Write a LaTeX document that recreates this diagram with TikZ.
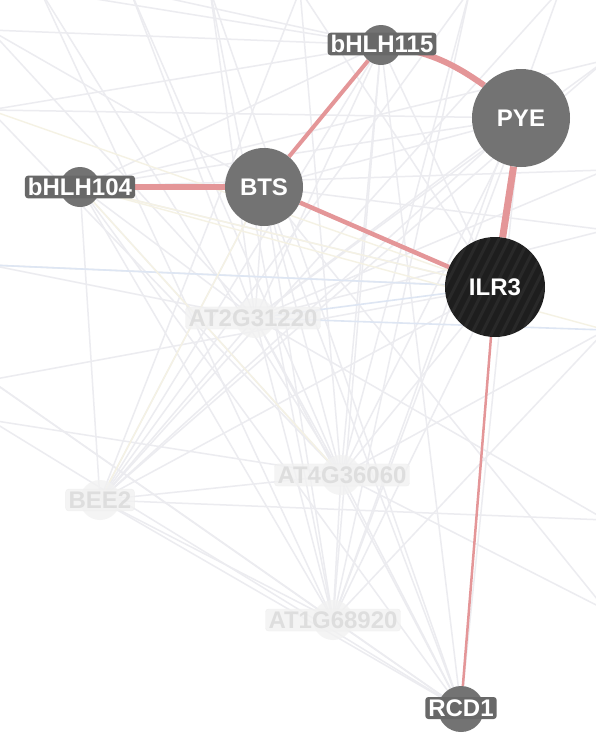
\documentclass[tikz,border=0pt]{standalone}
\usepackage{fontspec}
\setmainfont{Liberation Sans}
\pgfdeclarelayer{faintlayer}
\pgfdeclarelayer{ghostlayer}
\pgfdeclarelayer{edgelayer}
\pgfsetlayers{faintlayer,ghostlayer,edgelayer,main}
\definecolor{nodegray}{RGB}{115,115,115}
\definecolor{lblgray}{RGB}{104,104,104}
\definecolor{edgered}{RGB}{228,150,152}
\definecolor{ilrblack}{RGB}{30,30,30}
\definecolor{faintgray}{RGB}{236,236,240}
\definecolor{faintblue}{RGB}{222,230,243}
\definecolor{faintyellow}{RGB}{245,242,228}
\tikzset{
  hub/.style={circle, fill=nodegray, inner sep=0pt, text=white,
    font=\bfseries\fontsize{24}{24}\selectfont},
  dot/.style={circle, fill=nodegray, inner sep=0pt, minimum size=40pt},
  lbl/.style={rectangle, rounded corners=3pt, fill=lblgray, text=white,
    inner xsep=3pt, inner ysep=2.5pt, font=\bfseries\fontsize{24}{24}\selectfont},
  ghostdot/.style={circle, fill=black!5, inner sep=0pt, minimum size=40pt},
  ghostlbl/.style={rectangle, rounded corners=3pt, fill=black!5, draw=black!7,
    text=black!15, inner xsep=3pt, inner ysep=2.5pt,
    font=\bfseries\fontsize{24}{24}\selectfont},
  faint/.style={draw=faintgray, line width=1.5pt},
  faintb/.style={draw=faintblue, line width=1.6pt},
  fainty/.style={draw=faintyellow, line width=1.4pt},
  hit/.style={draw=edgered}
}
\begin{document}
\begin{tikzpicture}[x=1pt,y=-1pt]
\useasboundingbox (0,0) rectangle (596,756);
\begin{pgfonlayer}{faintlayer}
\fill[white] (0,0) rectangle (596,756);
\end{pgfonlayer}

% main nodes
\node[dot] (b115) at (381,45) {};
\node[lbl] (b115l) at (382,44) {bHLH115};
\node[hub, minimum size=98pt] (pye) at (521,118) {PYE};
\node[hub, minimum size=78pt] (bts) at (264,187) {BTS};
\node[dot] (b104) at (80,187) {};
\node[lbl] (b104l) at (80,187) {bHLH104};
\node[hub, fill=ilrblack, minimum size=100pt] (ilr3) at (495,287) {};
\begin{scope}
  \clip (495,287) circle (49.5pt);
  \foreach \i in {-120,-110,...,120}
    \draw[white, opacity=0.05, line width=3pt] (495+\i-40,367) -- ++(80,-160);
\end{scope}
\node[text=white, font=\bfseries\fontsize{24}{24}\selectfont] (ilr3t) at (495,287) {ILR3};
\node[dot, minimum size=46pt] (rcd1) at (461,709) {};
\node[lbl] (rcd1l) at (461,708) {RCD1};

% ghost nodes
\begin{pgfonlayer}{ghostlayer}
\node[ghostdot, opacity=0.8] (g1) at (255,318) {};
\node[ghostlbl, opacity=0.8] (g1l) at (253,318) {AT2G31220};
\node[ghostdot, opacity=0.8] (bee) at (100,500) {};
\node[ghostlbl, opacity=0.8] (beel) at (100,500) {BEE2};
\node[ghostdot, opacity=0.8] (g2) at (341,475) {};
\node[ghostlbl, opacity=0.8] (g2l) at (342,475) {AT4G36060};
\node[ghostdot, opacity=0.8] (g3) at (333,620) {};
\node[ghostlbl, opacity=0.8] (g3l) at (333,620) {AT1G68920};
\end{pgfonlayer}

% off-canvas anchors for faint edges
\coordinate (o1) at (-10,30);
\coordinate (o2) at (-10,110);
\coordinate (o3) at (-10,265);
\coordinate (o4) at (-10,380);
\coordinate (o5) at (-10,420);
\coordinate (o6) at (130,-10);
\coordinate (o7) at (210,-10);
\coordinate (o8) at (300,-10);
\coordinate (o9) at (470,-10);
\coordinate (o10) at (606,60);
\coordinate (o11) at (606,230);
\coordinate (o12) at (606,330);
\coordinate (o13) at (606,520);
\coordinate (o14) at (606,610);
\coordinate (o15) at (40,-10);
\coordinate (o16) at (606,170);
\coordinate (o17) at (560,-10);

\begin{pgfonlayer}{faintlayer}
\foreach \a/\b in {b115/g1, b115/g2, b115/g3, b115/bee, b115/rcd1, b115/b104,
  bts/g1, bts/g2, bts/g3, bts/bee, bts/rcd1, bts/pye,
  b104/g1, b104/g2, b104/g3, b104/bee, b104/rcd1,
  pye/g1, pye/g2, pye/g3, pye/bee, pye/rcd1, pye/b104,
  ilr3/g2, ilr3/g3, ilr3/bee, ilr3/b104, ilr3/b115,
  rcd1/g1, rcd1/g2, rcd1/g3, rcd1/bee,
  g1/g2, g1/g3, g1/bee, g2/g3, bee/g3, bee/g2,
  o1/b115, o1/bts, o1/g1, o2/b115, o2/pye, o2/g2, o3/ilr3, o3/g1,
  o4/ilr3, o4/g3, o4/rcd1, o5/g2, o5/rcd1,
  o6/g1, o6/g2, o6/b115, o7/g3, o7/rcd1, o7/g1, o8/g2, o8/bee, o8/ilr3,
  o9/bee, o9/g2, o9/g3, o10/b104, o10/g1, o10/bee, o11/bts, o11/g1,
  o12/g2, o12/g3, o13/g1, o13/bee, o14/g2, o14/bts,
  o15/g2, o15/g3, o15/b115, o16/g1, o16/b104, o17/g3, o17/bee}
  \draw[faint] (\a.center) -- (\b.center);
\draw[faintb] (g1.center) -- (ilr3.center);
\draw[faintb] (o3) -- (ilr3.center);
\draw[faintb] (o12) -- (g1.center);
\foreach \a/\b in {b104/g2, b104/ilr3, bee/bts, o2/ilr3, b104/o12}
  \draw[fainty] (\a.center) -- (\b.center);
\end{pgfonlayer}

% highlighted edges
\begin{pgfonlayer}{edgelayer}
\draw[hit, line width=6pt] (b104) -- (bts);
\draw[hit, line width=4pt] (b115) -- (bts);
\draw[hit, line width=6pt] (b115.center) to[bend left=14] (pye);
\draw[hit, line width=4.5pt] (bts) -- (ilr3);
\draw[hit, line width=7pt] (pye) -- (ilr3);
\draw[hit, line width=2.5pt] (ilr3) -- (rcd1);
\end{pgfonlayer}
\end{tikzpicture}
\end{document}
